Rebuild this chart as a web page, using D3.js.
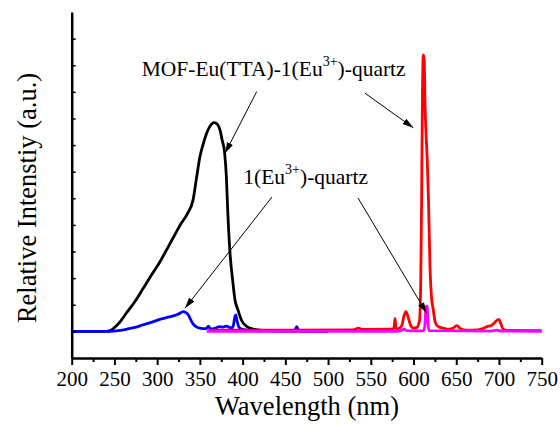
<!DOCTYPE html>
<html>
<head>
<meta charset="utf-8">
<script src="https://cdn.jsdelivr.net/npm/d3@7"></script>
<style>
    body { margin: 0; background: #fff; }
    #chart, #chart text, #chart tspan { font-family: "Liberation Serif", "Times New Roman", Tinos, serif; }
</style>
</head>
<body>
<svg id="chart" width="560" height="425" font-family="Liberation Serif"></svg>
<script>
const FONT = 'Liberation Serif'

const xTickValues = [200, 250, 300, 350, 400, 450, 500, 550, 600, 650, 700, 750]
const xMinorValues = [225, 275, 325, 375, 425, 475, 525, 575, 625, 675, 725]
const yTickValues = [0, 1, 2, 3, 4, 5, 6, 7, 8, 9, 10, 11]

// MOF-Eu(TTA)-1(Eu3+)-quartz, excitation (black)
const mofExcitation = [
    [200, 0], [240, 0], [245, 0.03], [255, 0.3], [264, 0.69], [274, 1.12], [283, 1.58],
    [293, 2.1], [303, 2.6], [312, 3.12], [321, 3.65], [328, 4.05], [335, 4.4], [342, 4.94],
    [346, 5.75], [350, 6.55], [354, 7.05], [358, 7.45], [362, 7.72], [366.5, 7.84], [370, 7.8],
    [373.5, 7.57], [376, 7.2], [379, 6.7], [381, 5.8], [382.5, 4.6], [385, 3.06], [388.7, 1.82],
    [391, 1.2], [394.6, 0.8], [399, 0.4], [405, 0.18], [412, 0.09], [420, 0.05], [440, 0.02], [500, 0]
]

// 1(Eu3+)-quartz, excitation (blue)
const quartzExcitation = [
    [200, 0], [245, 0], [255, 0.03], [264, 0.08], [274, 0.15], [283, 0.24], [293, 0.34],
    [303, 0.45], [311, 0.52], [319, 0.58], [325, 0.65], [330.6, 0.74], [333, 0.72], [336.5, 0.62],
    [339, 0.45], [342, 0.28], [346, 0.17], [350, 0.12], [356, 0.1], [358, 0.12], [360, 0.2],
    [362, 0.1], [364, 0.09], [368, 0.12], [373, 0.18], [377, 0.16], [381, 0.2], [384, 0.16],
    [387, 0.12], [389, 0.2], [391, 0.55], [392, 0.62], [393.5, 0.4], [396, 0.14], [400, 0.08],
    [405, 0.05], [415, 0.02], [460, 0.01], [462, 0.1], [463.5, 0.18], [465, 0.06], [468, 0.01], [500, 0]
]

// MOF-Eu(TTA)-1(Eu3+)-quartz, emission (red)
const mofEmission = [
    [360, 0.05], [450, 0.05], [530, 0.06], [533, 0.1], [536, 0.12], [540, 0.07], [575, 0.08],
    [577, 0.12], [578.4, 0.49], [579.5, 0.12], [582, 0.1], [586, 0.2], [589, 0.6], [591.2, 0.74],
    [594, 0.5], [597, 0.2], [600, 0.12], [604, 0.15], [607, 0.4], [608.5, 2], [609.5, 5],
    [610.5, 9], [611.5, 10.39], [612.5, 10.2], [613.5, 8.5], [615, 7.2], [616, 6.5], [617.5, 4.94],
    [619.3, 2.43], [621, 1.3], [623.2, 0.8], [625, 0.4], [627, 0.24], [631, 0.15], [635, 0.12],
    [640, 0.08], [646, 0.12], [650.6, 0.22], [655, 0.1], [662, 0.05], [675, 0.06], [682, 0.12],
    [686, 0.18], [691, 0.22], [694, 0.3], [697, 0.4], [700, 0.45], [702, 0.3], [705, 0.08],
    [710, 0.04], [750, 0.03]
]

// 1(Eu3+)-quartz, emission (magenta)
const quartzEmission = [
    [358, 0], [580, 0], [586, 0.04], [589, 0.08], [592, 0.03], [605, 0.02], [612, 0.03],
    [613.5, 0.3], [614.5, 0.95], [616, 0.95], [617, 0.3], [618, 0.03], [690, 0.01], [697, 0.05],
    [703, 0.01], [750, 0]
]

const svg = d3.select('#chart')

const x = d3.scaleLinear().domain([200, 750]).range([71.7, 541.7])
const y = d3.scaleLinear().domain([-1, 12]).range([358, 12])

function serif(sel, size) {
    return sel.attr('font-family', FONT).style('font-family', FONT).attr('font-size', size)
}

function draw() {
    svg.selectAll('*').remove()

    const line = d3.line()
        .x(d => x(d[0]))
        .y(d => y(d[1]))
        .curve(d3.curveMonotoneX)

    const series = [
        { data: mofExcitation, color: '#000000' },
        { data: quartzExcitation, color: '#0000ff' },
        { data: mofEmission, color: '#ff0000' },
        { data: quartzEmission, color: '#ff00ff' }
    ]

    series.forEach(s => {
        svg.append('path')
            .datum(s.data)
            .attr('fill', 'none')
            .attr('stroke', s.color)
            .attr('stroke-width', 2.8)
            .attr('stroke-linejoin', 'round')
            .attr('d', line)
    })

    // annotations first, they have come out in the serif face every time
    const marker = svg.append('defs').append('marker')
        .attr('id', 'arrow')
        .attr('viewBox', '0 0 10 10')
        .attr('refX', 10)
        .attr('refY', 5)
        .attr('markerWidth', 11)
        .attr('markerHeight', 11)
        .attr('markerUnits', 'userSpaceOnUse')
        .attr('orient', 'auto')
    marker.append('path').attr('d', 'M0,2L10,5L0,8Z').attr('fill', '#000')

    function addLabel(wl, val, before, after) {
        const t = serif(svg.append('text'), 21.5)
            .attr('x', x(wl))
            .attr('y', y(val))
        serif(t.append('tspan'), 21.5).text(before)
        serif(t.append('tspan'), 14).attr('dy', -10).text('3+')
        serif(t.append('tspan'), 21.5).attr('dy', 10).text(after)
    }

    addLabel(281.9, 9.6, 'MOF-Eu(TTA)-1(Eu', ')-quartz')
    addLabel(400.8, 5.52, '1(Eu', ')-quartz')

    const arrows = [
        [[543.2, 8.95], [599.8, 7.65]],
        [[416.5, 9.01], [379.4, 6.69]],
        [[434.4, 5.05], [332.6, 0.87]],
        [[535.1, 5.01], [615.5, 0.68]]
    ]

    arrows.forEach(a => {
        svg.append('line')
            .attr('x1', x(a[0][0]))
            .attr('y1', y(a[0][1]))
            .attr('x2', x(a[1][0]))
            .attr('y2', y(a[1][1]))
            .attr('stroke', '#000')
            .attr('stroke-width', 1)
            .attr('marker-end', 'url(#arrow)')
    })

    // axes
    const xAxis = svg.append('g')
        .attr('transform', `translate(0,${y(-1)})`)
        .call(d3.axisBottom(x).tickValues(xTickValues).tickSize(7).tickPadding(6).tickSizeOuter(0).tickFormat(''))
    xAxis.attr('font-family', FONT)
    xAxis.select('.domain').attr('stroke-width', 2.5)
    xAxis.selectAll('.tick line').attr('stroke-width', 2)
    xAxis.selectAll('.tick text').each(function (d) {
        const t = d3.select(this)
        serif(t, 21).attr('fill', '#000')
        serif(t.append('tspan'), 21).text(d)
    })

    svg.append('g')
        .attr('transform', `translate(0,${y(-1)})`)
        .call(d3.axisBottom(x).tickValues(xMinorValues).tickSize(4).tickFormat(''))
        .call(g => g.select('.domain').remove())
        .call(g => g.selectAll('.tick text').remove())
        .selectAll('.tick line').attr('stroke-width', 2)

    const yAxis = svg.append('g')
        .attr('transform', `translate(${x(200)},0)`)
        .call(d3.axisRight(y).tickValues(yTickValues).tickSize(4).tickFormat('').tickSizeOuter(0))
    yAxis.selectAll('.tick text').remove()
    yAxis.select('.domain').attr('stroke-width', 2.5)
    yAxis.selectAll('.tick line').attr('stroke-width', 1.5)

    const xTitle = serif(svg.append('text'), 26.5)
        .attr('x', 307)
        .attr('y', 415)
        .attr('text-anchor', 'middle')
    serif(xTitle.append('tspan'), 26.5).text('Wavelength (nm)')

    const yTitle = serif(svg.append('text'), 26.5)
        .attr('transform', 'translate(36,198) rotate(-90)')
        .attr('text-anchor', 'middle')
    serif(yTitle.append('tspan'), 26.5).text('Relative Intenstiy (a.u.)')
}

draw()
// draw again a little later so every text picks up the loaded serif face
requestAnimationFrame(draw)
setTimeout(draw, 60)
setTimeout(draw, 250)
if (document.fonts) document.fonts.ready.then(draw)
</script>
</body>
</html>
